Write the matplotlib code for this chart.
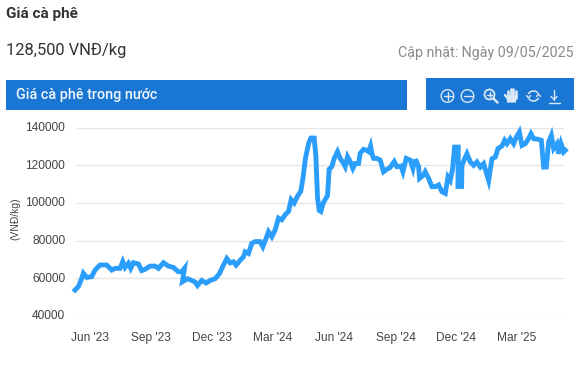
import matplotlib
matplotlib.use("Agg")
import matplotlib.pyplot as plt
import pandas as pd
from matplotlib.patches import Rectangle, Circle, FancyBboxPatch, Arc
from matplotlib.transforms import ScaledTranslation

W, H = 588, 365
BASE_DATE = "2023-06-01"
days_a = [-22.5,-17.5,-12.5,-10,-5,2.5,7.5,15,25,32.5,37.5,45,49,52.5,57.5,61,65,72.5,77.5,82.5,90,97.5,102.5,110,117.5,125,132.5,137.5,141.5,138.5]
prices_a = [53800,55600,60000,62700,60500,60900,64400,67100,67100,64400,65300,65300,68900,65800,68000,65300,68300,67600,64100,64800,66500,66500,65300,68300,66500,65800,63500,63500,65300,58200]
days_b = [146,152.5,157.5,161,167.5,174,180,187.5,194,197.5,202.5,205,210,215,219,225,230,232.5,237.5,242.5,247.5,255,259,264,267.5,272.5,277.5,282.5,287.5,292.5,297.5,301.5,306,311,316]
prices_b = [59800,58900,58000,56200,58900,57500,58900,59800,62500,65200,68800,70500,68200,68800,67000,69600,71400,74100,73200,78600,79500,79500,76800,81300,84800,82100,85700,92000,91100,93800,95500,101800,100000,103600,106300]
days_c = [319.5,323,328,331,336,338.5,341,343.5,346,349.5,356,358.5]
prices_c = [114000,124000,132000,134500,134500,125000,103000,96000,95500,100000,104000,118000]
days_d = [362.5,366,371,375,380,382.5,386,390,394,397.5,402.5,405,410,414,417.5,420.5,422.5,425,430,435,440,445,450,456,460,466,469,474,480,484,486,489,492.5,494,500,502.5,507.5,512.5,517.5,522.5,527.5,532.5]
prices_d = [119300,123700,127300,123700,121000,119300,124600,122000,118400,121000,121000,126400,128500,128100,127300,130300,126400,123700,123700,122800,116600,117900,118900,122000,119300,119600,116600,123700,122800,118400,122000,122300,119300,113100,114900,116600,113100,108700,108700,109600,106000,105100]
days_e = [536.5,540,543.5,546.5,552,551.5,557,557.5,561.5,565,570,575,580,585,590,597.5,602.5,607.5,611.5,617.5,621.5,625,630,635,639,643.5,647.5,652.5,657.5,661,665,672.5,676.5,680,684,687.5,691.5,695,700,702.5,706,710,712.5]
prices_e = [113800,112000,118200,129700,129700,108800,108800,120000,123500,126200,121800,120000,121800,119100,120900,112000,123500,124400,128900,130300,133300,131500,134200,131500,135000,137700,130600,131500,134200,136800,134200,133800,133300,119100,119100,132400,135900,128900,131500,126200,131500,127100,128000]
y_ticks = [40000,60000,80000,100000,120000,140000]
x_tick_dates = ["2023-06-01","2023-09-01","2023-12-01","2024-03-01","2024-06-01","2024-09-01","2024-12-01","2025-03-01"]
x_tick_labels = ["Jun '23","Sep '23","Dec '23","Mar '24","Jun '24","Sep '24","Dec '24","Mar '25"]
title = "Giá cà phê"
price_text = "128,500 VNĐ/kg"
updated_text = "Cập nhật: Ngày 09/05/2025"
panel_title = "Giá cà phê trong nước"
y_label = "(VNĐ/kg)"

days = days_a + days_b + days_c + days_d + days_e
prices = prices_a + prices_b + prices_c + prices_d + prices_e

px = 1/100
fig = plt.figure(figsize=(W*px, H*px), dpi=100, facecolor="white")

pg = fig.add_axes([0,0,1,1])
pg.set_xlim(0,W); pg.set_ylim(H,0); pg.axis("off")
F = "Roboto"
pg.text(6,14,title,family=F,fontweight="bold",fontsize=11.0,color="#333333",va="center")
pg.text(6,50,price_text,family=F,fontsize=11.9,color="#333333",va="center")
pg.text(574,52.5,updated_text,family=F,fontsize=10.25,color="#8a8a8a",va="center",ha="right")
BLUE = "#1976d2"
pg.add_patch(Rectangle((6,80),401,30,fc=BLUE,ec="none"))
pg.add_patch(Rectangle((426,78),148,32,fc=BLUE,ec="none"))
pg.text(16,94.7,panel_title,family=F,fontweight="medium",fontsize=10.35,color="#f2f7fc",va="center")

ic = "#dbe8f6"
lw = 1.0
def line(xs, ys, w=lw):
    pg.plot(xs, ys, color=ic, lw=w, solid_capstyle="round")
pg.add_patch(Circle((447.5,96),6.3,fc="none",ec=ic,lw=lw))
line([443.5,451.5],[96,96]); line([447.5,447.5],[92,100])
pg.add_patch(Circle((467.5,96),6.3,fc="none",ec=ic,lw=lw))
line([463.5,471.5],[96,96])
pg.add_patch(Circle((489.5,94.5),5,fc="none",ec=ic,lw=1.3))
line([487,492],[94.5,94.5]); line([489.5,489.5],[92,97]); line([493.5,497.5],[98.5,102.5],1.8)
for xh, top in zip([508,510.5,513,515.5],[91,88.5,88.5,90.5]):
    line([xh,xh],[top,98],1.9)
pg.add_patch(FancyBboxPatch((507.5,96),8,6,boxstyle="round,pad=0.6",fc=ic,ec="none"))
line([505,508],[95,99],1.7)
pg.add_patch(Arc((533.5,96),11,10,theta1=200,theta2=330,ec=ic,lw=1.1))
pg.add_patch(Arc((533.5,96),11,10,theta1=20,theta2=150,ec=ic,lw=1.1))
line([526.5,528.5,530.5],[95.5,98,95.5]); line([536.5,538.5,540.5],[96.5,94,96.5])
line([554,554],[90,99.5]); line([551,554,557],[96.5,99.5,96.5]); line([548.5,559.5],[103,103])

x0, x1 = 75.7, 564
y_top, y_bot = 127.7, 316
ax = fig.add_axes([x0/W, 1-y_bot/H, (x1-x0)/W, (y_bot-y_top)/H])
ax.patch.set_alpha(0)
base = pd.Timestamp(BASE_DATE)
dates = base + pd.to_timedelta(days, unit="D")
ax.plot(dates, prices, color="#2b9dfa", lw=3.5, solid_joinstyle="miter", clip_on=False, zorder=3)
ax.set_xlim(base + pd.Timedelta(days=-21.5), base + pd.Timedelta(days=710.5))
ax.set_ylim(40000,140000)
ax.set_yticks(y_ticks, [str(v) for v in y_ticks])
ax.set_xticks(pd.to_datetime(x_tick_dates), x_tick_labels)
ax.grid(axis="y", color="#e6e6e6", lw=1.0)
ax.grid(axis="x", visible=False)
ax.set_axisbelow(True)
for s in ax.spines.values():
    s.set_visible(False)
ax.tick_params(axis="both", length=0, colors="#444444", labelfontfamily="Liberation Sans", labelsize=8.6)
ax.tick_params(axis="y", pad=7.5)
ax.tick_params(axis="x", pad=11.5)
shift = ScaledTranslation(0, 1.2/100, fig.dpi_scale_trans)
for lab in ax.get_yticklabels():
    lab.set_transform(lab.get_transform() + shift)
pg.text(15.5,219,y_label,family="Liberation Sans",fontsize=7.4,color="#444444",rotation=90,ha="center",va="center")

fig.savefig("out.png", dpi=100, facecolor="white")
